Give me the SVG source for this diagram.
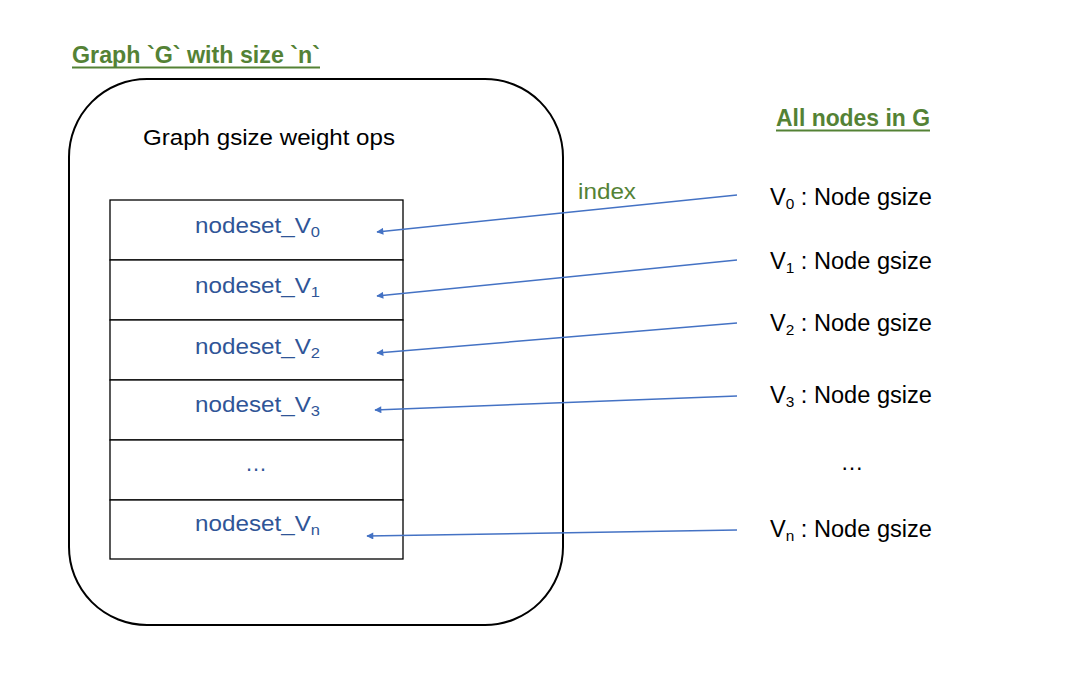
<svg xmlns="http://www.w3.org/2000/svg" width="1068" height="690" viewBox="0 0 1068 690">
<defs>
<marker id="ah" viewBox="0 0 10 10" refX="9" refY="5" markerWidth="9" markerHeight="7" markerUnits="userSpaceOnUse" orient="auto">
<path d="M0,0 L10,5 L0,10 Z" fill="#4472C4"/>
</marker>
<style>
.t{font-family:"Liberation Sans",Arial,sans-serif;}
.g{fill:#548235;font-weight:bold;font-size:24px;}
.blk{fill:#000;font-size:22px;}
.ns{fill:#2F5597;font-size:22px;}
.vn{fill:#000;font-size:23px;}
.sub{font-size:15px;}
.row{fill:#fff;stroke:#000;stroke-width:1.3;}
.conn{stroke:#4472C4;stroke-width:1.5;fill:none;marker-end:url(#ah);}
</style>
</defs>
<rect width="1068" height="690" fill="#fff"/>

<g id="title">
<text class="t g" x="72" y="63" textLength="248" lengthAdjust="spacingAndGlyphs">Graph `G` with size `n`</text>
<line x1="72" y1="67.5" x2="320" y2="67.5" stroke="#548235" stroke-width="1.8"/>
</g>
<g id="allnodes-title">
<text class="t g" x="776" y="126" textLength="154" lengthAdjust="spacingAndGlyphs">All nodes in G</text>
<line x1="776" y1="130.5" x2="930" y2="130.5" stroke="#548235" stroke-width="1.8"/>
</g>

<g id="graph">
<rect x="69" y="79" width="494" height="546" rx="78" ry="78" fill="#fff" stroke="#000" stroke-width="2"/>
<text class="t blk" x="143" y="145" textLength="252" lengthAdjust="spacingAndGlyphs">Graph gsize weight ops</text>
</g>

<g id="nodeset_V0">
<rect class="row" x="110" y="200" width="293" height="60"/>
<text class="t ns" x="195" y="233" textLength="125" lengthAdjust="spacingAndGlyphs">nodeset_V<tspan class="sub" dy="4">0</tspan></text>
</g>
<g id="nodeset_V1">
<rect class="row" x="110" y="260" width="293" height="60"/>
<text class="t ns" x="195" y="293" textLength="125" lengthAdjust="spacingAndGlyphs">nodeset_V<tspan class="sub" dy="4">1</tspan></text>
</g>
<g id="nodeset_V2">
<rect class="row" x="110" y="320" width="293" height="60"/>
<text class="t ns" x="195" y="354" textLength="125" lengthAdjust="spacingAndGlyphs">nodeset_V<tspan class="sub" dy="4">2</tspan></text>
</g>
<g id="nodeset_V3">
<rect class="row" x="110" y="380" width="293" height="60"/>
<text class="t ns" x="195" y="412" textLength="125" lengthAdjust="spacingAndGlyphs">nodeset_V<tspan class="sub" dy="4">3</tspan></text>
</g>
<g id="nodeset_dots">
<rect class="row" x="110" y="440" width="293" height="60"/>
<text class="t ns" x="256" y="471" text-anchor="middle">…</text>
</g>
<g id="nodeset_Vn">
<rect class="row" x="110" y="500" width="293" height="59"/>
<text class="t ns" x="195" y="531" textLength="125" lengthAdjust="spacingAndGlyphs">nodeset_V<tspan class="sub" dy="4">n</tspan></text>
</g>

<g id="V0"><text class="t vn" x="770" y="205" textLength="162" lengthAdjust="spacingAndGlyphs">V<tspan class="sub" dy="4">0</tspan><tspan dy="-4"> : Node gsize</tspan></text></g>
<g id="V1"><text class="t vn" x="770" y="269" textLength="162" lengthAdjust="spacingAndGlyphs">V<tspan class="sub" dy="4">1</tspan><tspan dy="-4"> : Node gsize</tspan></text></g>
<g id="V2"><text class="t vn" x="770" y="331" textLength="162" lengthAdjust="spacingAndGlyphs">V<tspan class="sub" dy="4">2</tspan><tspan dy="-4"> : Node gsize</tspan></text></g>
<g id="V3"><text class="t vn" x="770" y="403" textLength="162" lengthAdjust="spacingAndGlyphs">V<tspan class="sub" dy="4">3</tspan><tspan dy="-4"> : Node gsize</tspan></text></g>
<g id="Vdots"><text class="t vn" x="852" y="470" text-anchor="middle">…</text></g>
<g id="Vn"><text class="t vn" x="770" y="537" textLength="162" lengthAdjust="spacingAndGlyphs">V<tspan class="sub" dy="4">n</tspan><tspan dy="-4"> : Node gsize</tspan></text></g>

<g id="connectors">
<line class="conn" x1="737" y1="195" x2="377" y2="232"/>
<line class="conn" x1="737" y1="260" x2="377" y2="296"/>
<line class="conn" x1="737" y1="323" x2="377" y2="353"/>
<line class="conn" x1="737" y1="396" x2="375" y2="410"/>
<line class="conn" x1="737" y1="530" x2="367" y2="536"/>
<text class="t" x="578" y="199" fill="#548235" font-size="22" textLength="58" lengthAdjust="spacingAndGlyphs">index</text>
</g>
</svg>
